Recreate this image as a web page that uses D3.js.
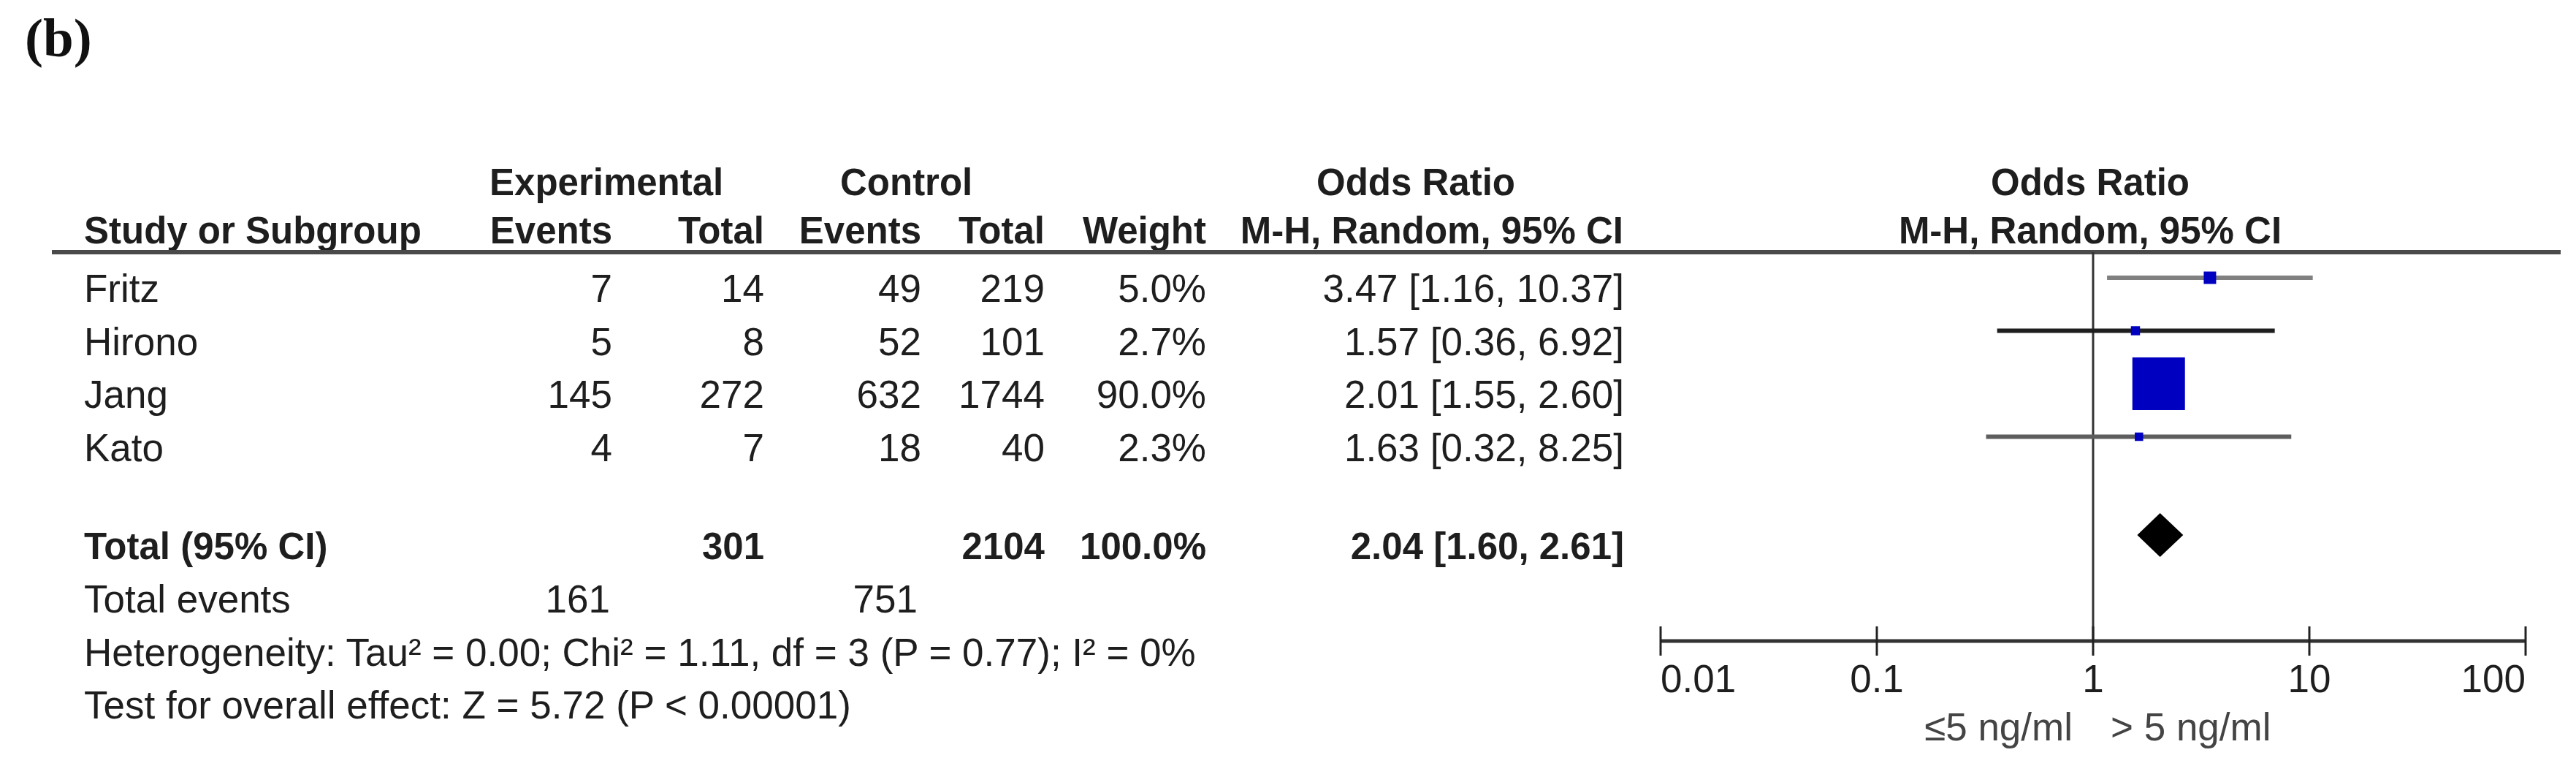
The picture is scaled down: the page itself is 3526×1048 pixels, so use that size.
<!DOCTYPE html>
<html>
<head>
<meta charset="utf-8">
<script src="https://cdn.jsdelivr.net/npm/d3@7"></script>
<style>
  html, body { margin: 0; padding: 0; background: #fff; }
  svg { display: block; }
  text { font-family: "Liberation Sans", Arial, sans-serif; fill: #1e1e1e; }
</style>
</head>
<body>
<svg id="chart" width="3526" height="1048"></svg>
<script>
// ---------- data ----------
const studies   = ["Fritz", "Hirono", "Jang", "Kato"];
const expEvents = [7, 5, 145, 4];
const expTotal  = [14, 8, 272, 7];
const ctlEvents = [49, 52, 632, 18];
const ctlTotal  = [219, 101, 1744, 40];
const weights   = [5.0, 2.7, 90.0, 2.3];
const oddsRatio = [3.47, 1.57, 2.01, 1.63];
const ciLow     = [1.16, 0.36, 1.55, 0.32];
const ciHigh    = [10.37, 6.92, 2.60, 8.25];

const totalExp = 301, totalCtl = 2104, totalWeight = 100.0;
const totalOR = 2.04, totalLow = 1.60, totalHigh = 2.61;
const totalEventsExp = 161, totalEventsCtl = 751;

const heterogeneityText = "Heterogeneity: Tau\u00B2 = 0.00; Chi\u00B2 = 1.11, df = 3 (P = 0.77); I\u00B2 = 0%";
const overallText = "Test for overall effect: Z = 5.72 (P < 0.00001)";
const axisTicks = [0.01, 0.1, 1, 10, 100];
const axisTickLabels = ["0.01", "0.1", "1", "10", "100"];
const favoursLeft = "\u22645 ng/ml";
const favoursRight = "> 5 ng/ml";

// ---------- styles ----------
const ciColors = ["#808080", "#1e1e1e", "#5e5e5e", "#5e5e5e"];
const FS = 53, HFS = 51;

const svg = d3.select("#chart");

// scales
const x = d3.scaleLog().domain([0.01, 100]).range([2273, 3457]);
const rowBase = d3.scaleLinear().domain([0, 1]).range([413, 485.5]); // text baseline per row
const boxSize = d3.scaleSqrt().domain([0, 90]).range([0, 72]);
const markOffset = 33; // marks sit above text baseline
const fmt2 = d3.format(".2f"), fmt1 = d3.format(".1f");

// ---------- title ----------
svg.append("text").attr("x", 34).attr("y", 77)
  .style("font-family", "'Liberation Serif', 'Times New Roman', serif")
  .style("font-weight", "bold").style("font-size", "75px").style("fill", "#111")
  .text("(b)");

// ---------- headers ----------
const hdr = (t, xx, y, anchor) => svg.append("text").attr("x", xx).attr("y", y)
  .attr("text-anchor", anchor).style("font-weight", "bold").style("font-size", HFS + "px").text(t);

hdr("Experimental", 670, 267, "start");
hdr("Control", 1150, 267, "start");
hdr("Odds Ratio", 1938, 267, "middle");
hdr("Odds Ratio", x(1) - 4, 267, "middle");

hdr("Study or Subgroup", 115, 333, "start");
hdr("Events", 838, 333, "end");
hdr("Total", 1046, 333, "end");
hdr("Events", 1261, 333, "end");
hdr("Total", 1430, 333, "end");
hdr("Weight", 1651, 333, "end");
hdr("M-H, Random, 95% CI", 2222, 333, "end");
hdr("M-H, Random, 95% CI", x(1) - 4, 333, "middle");

// header rule
svg.append("line").attr("x1", 71).attr("x2", 3505).attr("y1", 345).attr("y2", 345)
  .attr("stroke", "#4a4a4a").attr("stroke-width", 6);

// ---------- study rows ----------
const cell = (t, xx, y, anchor, bold) => svg.append("text").attr("x", xx).attr("y", y)
  .attr("text-anchor", anchor)
  .style("font-weight", bold ? "bold" : "normal")
  .style("font-size", (bold ? HFS : FS) + "px").text(t);

studies.forEach((s, i) => {
  const y = rowBase(i);
  cell(s, 115, y, "start");
  cell(expEvents[i], 838, y, "end");
  cell(expTotal[i], 1046, y, "end");
  cell(ctlEvents[i], 1261, y, "end");
  cell(ctlTotal[i], 1430, y, "end");
  cell(fmt1(weights[i]) + "%", 1651, y, "end");
  cell(fmt2(oddsRatio[i]) + " [" + fmt2(ciLow[i]) + ", " + fmt2(ciHigh[i]) + "]", 2223, y, "end");
});

// total rows
const yTotal = 765;
cell("Total (95% CI)", 115, yTotal, "start", true);
cell(totalExp, 1046, yTotal, "end", true);
cell(totalCtl, 1430, yTotal, "end", true);
cell(fmt1(totalWeight) + "%", 1651, yTotal, "end", true);
cell(fmt2(totalOR) + " [" + fmt2(totalLow) + ", " + fmt2(totalHigh) + "]", 2223, yTotal, "end", true);

cell("Total events", 115, 838, "start");
cell(totalEventsExp, 835, 838, "end");
cell(totalEventsCtl, 1256, 838, "end");
cell(heterogeneityText, 115, 911, "start");
cell(overallText, 115, 983, "start");

// ---------- forest plot ----------
const axisY = 877;

// line of no effect
svg.append("line").attr("x1", x(1)).attr("x2", x(1)).attr("y1", 345).attr("y2", axisY)
  .attr("stroke", "#333").attr("stroke-width", 3);

// CI lines
svg.append("g").selectAll("line").data(studies).join("line")
  .attr("x1", (d, i) => x(ciLow[i])).attr("x2", (d, i) => x(ciHigh[i]))
  .attr("y1", (d, i) => rowBase(i) - markOffset).attr("y2", (d, i) => rowBase(i) - markOffset)
  .attr("stroke", (d, i) => ciColors[i]).attr("stroke-width", 6);

// weight squares
svg.append("g").selectAll("rect").data(studies).join("rect")
  .attr("x", (d, i) => x(oddsRatio[i]) - boxSize(weights[i]) / 2)
  .attr("y", (d, i) => rowBase(i) - markOffset - boxSize(weights[i]) / 2)
  .attr("width", (d, i) => boxSize(weights[i]))
  .attr("height", (d, i) => boxSize(weights[i]))
  .attr("fill", "#0000c0");

// pooled diamond
const dy = yTotal - markOffset, dh = 30;
svg.append("path")
  .attr("d", `M${x(totalLow)},${dy} L${x(totalOR)},${dy - dh} L${x(totalHigh)},${dy} L${x(totalOR)},${dy + dh} Z`)
  .attr("fill", "#000");

// axis
const axisG = svg.append("g").attr("transform", `translate(0,${axisY})`);
axisG.append("line").attr("x1", x(0.01)).attr("x2", x(100)).attr("y1", 0).attr("y2", 0)
  .attr("stroke", "#333").attr("stroke-width", 5);
axisG.selectAll("line.tick").data(axisTicks).join("line").attr("class", "tick")
  .attr("x1", d => x(d)).attr("x2", d => x(d)).attr("y1", -20).attr("y2", 20)
  .attr("stroke", "#222").attr("stroke-width", 3);
axisG.selectAll("text").data(axisTicks).join("text")
  .attr("x", d => x(d)).attr("y", 70)
  .attr("text-anchor", (d, i) => i === 0 ? "start" : (i === axisTicks.length - 1 ? "end" : "middle"))
  .style("font-size", FS + "px")
  .text((d, i) => axisTickLabels[i]);

// favours labels
svg.append("text").attr("x", 2837).attr("y", 1013).attr("text-anchor", "end")
  .style("font-size", FS + "px").style("fill", "#444").text(favoursLeft);
svg.append("text").attr("x", 2889).attr("y", 1013).attr("text-anchor", "start")
  .style("font-size", FS + "px").style("fill", "#444").text(favoursRight);
</script>
</body>
</html>
